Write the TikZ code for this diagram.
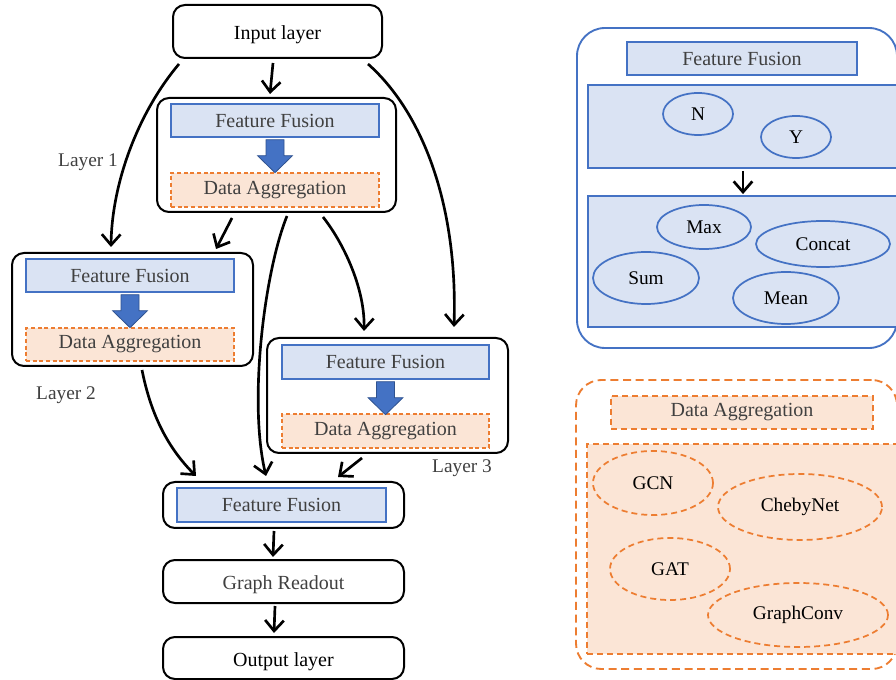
\documentclass[tikz,border=0pt]{standalone}
\usepackage{fontspec}
\setmainfont{Liberation Serif}
\usetikzlibrary{arrows.meta,calc,shapes.geometric}
\definecolor{ffFill}{HTML}{DAE3F3}
\definecolor{ffLine}{HTML}{4472C4}
\definecolor{daFill}{HTML}{FBE5D6}
\definecolor{daLine}{HTML}{ED7D31}
\definecolor{txtGray}{HTML}{404040}
\definecolor{blkLine}{HTML}{2F528F}

\begin{document}
\begin{tikzpicture}[x=0.75pt,y=-0.75pt,
  every node/.style={font=\fontsize{15}{18}\selectfont},
  % a node spanning the corners (x1,y1) and (x2,y2)
  area/.style n args={4}{at={({(#1+#3)/2},{(#2+#4)/2})},anchor=center,
    minimum width={(#3-#1)*0.75pt},minimum height={(#4-#2)*0.75pt},inner sep=0pt},
  box/.style={draw=black,line width=1.5pt,rounded corners=9pt,text height=12.5pt,text depth=0pt},
  ffrect/.style={draw=ffLine,fill=ffFill,line width=1pt,text=txtGray},
  darect/.style={draw=daLine,fill=daFill,line width=1pt,dash pattern=on 3pt off 2pt,text=txtGray},
  conn/.style={line width=2pt,-{Straight Barb[length=8pt,width=14pt]}},
  blockarrow/.style={fill=ffLine,draw=blkLine,line width=0.6pt},
  layername/.style={text=txtGray,font=\fontsize{14.5}{17}\selectfont},
  oval/.style 2 args={ellipse,inner sep=0pt,minimum width=#1*1.5pt,minimum height=#2*1.5pt,font=\fontsize{14.5}{17}\selectfont},
  ffoval/.style 2 args={oval={#1}{#2},draw=ffLine,line width=1.3pt},
  daoval/.style 2 args={oval={#1}{#2},draw=daLine,line width=1.3pt,dash pattern=on 4.5pt off 3pt},
]
\useasboundingbox (0,0) rectangle (896,680);
\fill[white] (0,0) rectangle (896,680);
\clip (0,0) rectangle (896,680);

% ---------- main pipeline ----------
\node[box,area={173}{5}{382}{58}] (in) {Input layer};

% layer 1
\node[box,area={157}{98}{396}{212}] (L1) {};
\node[ffrect,area={171}{104}{379}{137}] (ff1) {Feature Fusion};
\node[darect,area={171}{173}{379}{207}] (da1) {Data Aggregation};
\filldraw[blockarrow,shift={(ff1.south)}] (-9,2)--(9,2)--(9,18)--(17.5,18)--(0,35)--(-17.5,18)--(-9,18)--cycle;

% layer 2
\node[box,area={12}{253}{253}{366}] (L2) {};
\node[ffrect,area={26}{259}{234}{292}] (ff2) {Feature Fusion};
\node[darect,area={26}{328}{234}{361}] (da2) {Data Aggregation};
\filldraw[blockarrow,shift={(ff2.south)}] (-9,2)--(9,2)--(9,18)--(17.5,18)--(0,35)--(-17.5,18)--(-9,18)--cycle;

% layer 3
\node[box,area={267}{338}{508}{453}] (L3) {};
\node[ffrect,area={282}{345}{489}{379}] (ff3) {Feature Fusion};
\node[darect,area={282}{414}{489}{448}] (da3) {Data Aggregation};
\filldraw[blockarrow,shift={(ff3.south)}] (-9,2)--(9,2)--(9,18)--(17.5,18)--(0,35)--(-17.5,18)--(-9,18)--cycle;

% final fusion, readout, output
\node[box,area={163}{482}{404}{528}] (fin) {};
\node[ffrect,area={177}{488}{386}{522}] (ff4) {Feature Fusion};
\node[box,area={163}{560}{404}{603},text=txtGray] (ro) {Graph Readout};
\node[box,area={163}{637}{404}{679}] (out) {Output layer};

% layer labels
\node[layername] (lab1) at (88,162) {Layer 1};
\node[layername] (lab2) at (66,395) {Layer 2};
\node[layername] (lab3) at (462,468) {Layer 3};

% connectors
\draw[conn] ($(in.south)+(-4.5,4)$) -- ($(L1.north)+(-6.5,-3)$);
\draw[conn] ($(in.south west)+(7,5)$) .. controls (140,110) and (112,180) .. ($(L2.north west)+(100,-5)$);
\draw[conn] ($(in.south east)+(-15,5)$) .. controls (420,110) and (458,200) .. ($(L3.north east)+(-55,-10)$);
\draw[conn] ($(L1.south)+(-44.5,5)$) -- ($(L2.north east)+(-38,-3)$);
\draw[conn] ($(L1.south)+(46.5,4)$) .. controls (345,245) and (365,290) .. ($(L3.north west)+(98,-6)$);
\draw[conn] ($(L1.south)+(10.5,3)$) .. controls (265,270) and (248,400) .. ($(fin.north)+(-17.5,-5)$);
\draw[conn] ($(L2.south)+(9.5,3)$) .. controls (150,410) and (165,445) .. ($(fin.north west)+(34,-5)$);
\draw[conn] ($(L3.south west)+(96,4)$) -- ($(fin.north east)+(-67,-4)$);
\draw[conn] ($(fin.south)+(-9.5,2)$) -- ($(ro.north)+(-10.5,-2)$);
\draw[conn] ($(ro.south)+(-8.5,2)$) -- ($(out.north)+(-9.5,-3)$);

% ---------- feature fusion detail ----------
\node[draw=ffLine,line width=1.4pt,rounded corners=21pt,area={577}{28}{897}{348}] (ffpanel) {};
\node[ffrect,area={627}{42}{857}{75}] (fft) {Feature Fusion};
\node[ffrect,line width=1.4pt,area={588}{85}{898}{168}] (ffa) {};
\node[ffrect,line width=1.4pt,area={588}{196}{898}{327}] (ffb) {};
\node[ffoval={35}{21}] (oN) at (698,114) {N};
\node[ffoval={35}{21}] (oY) at (796,137) {Y};
\node[ffoval={47}{22}] (oMax) at (704,227) {Max};
\node[ffoval={67}{23}] (oConcat) at (823,244) {Concat};
\node[ffoval={53}{26}] (oSum) at (646,278) {Sum};
\node[ffoval={53}{26}] (oMean) at (786,298) {Mean};
\draw[conn] ($(ffa.south)+(0,2)$) -- ($(ffb.north)+(0,-1)$);

% ---------- data aggregation detail ----------
\node[draw=daLine,line width=1.4pt,dash pattern=on 6pt off 3.5pt,rounded corners=19pt,area={576}{380}{897}{669}] (dapanel) {};
\node[darect,dash pattern=on 4.5pt off 3pt,line width=1.3pt,area={611}{396}{873}{429}] (dat) {Data Aggregation};
\node[darect,dash pattern=on 4.5pt off 3pt,line width=1.4pt,area={587}{444}{898}{654}] (dab) {};
\node[daoval={60}{32}] (oGCN) at (653,483) {GCN};
\node[daoval={82}{33}] (oCheb) at (800,507) {ChebyNet};
\node[daoval={60}{31}] (oGAT) at (670,569) {GAT};
\node[daoval={90}{32}] (oGConv) at (798,615) {GraphConv};
\end{tikzpicture}
\end{document}
